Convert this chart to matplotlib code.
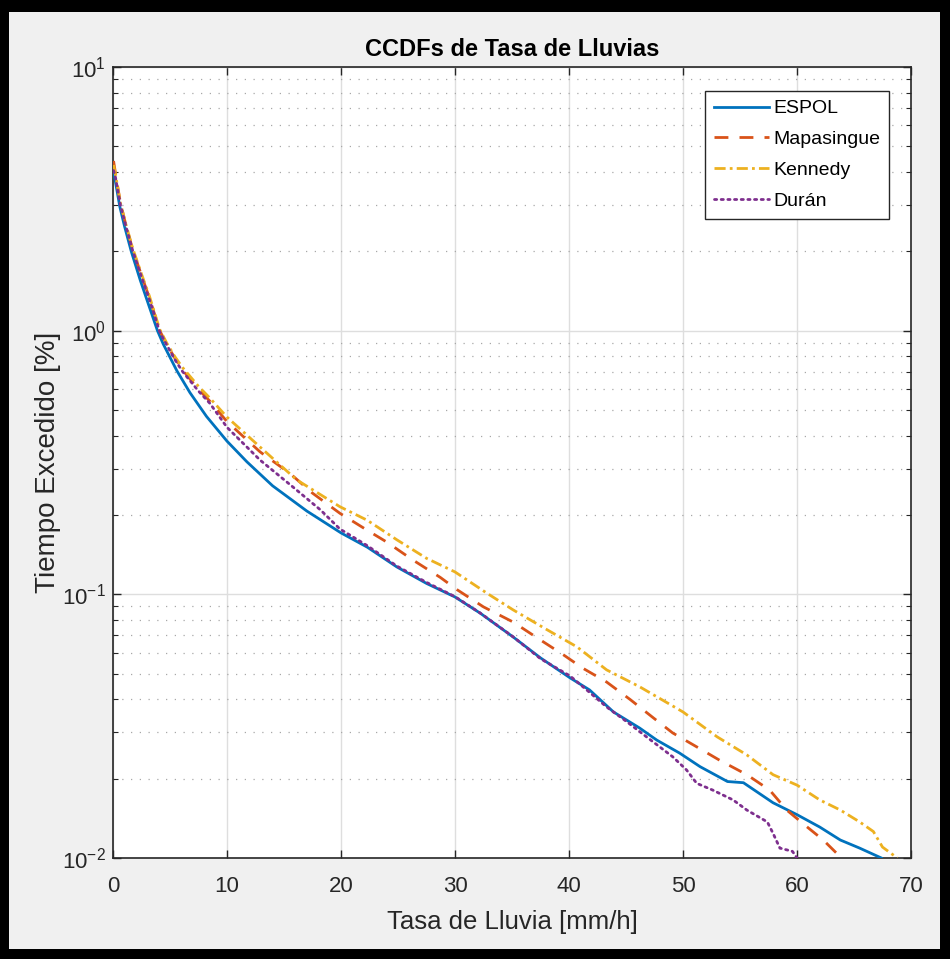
import matplotlib
matplotlib.use("Agg")
import matplotlib.pyplot as plt
from matplotlib.patches import Rectangle
from matplotlib.ticker import LogLocator, NullFormatter, FixedLocator

plt.rcParams['font.family'] = ['Liberation Sans', 'DejaVu Sans']
plt.rcParams['mathtext.fontset'] = 'custom'
plt.rcParams['mathtext.rm'] = 'Liberation Sans'
plt.rcParams['mathtext.it'] = 'Liberation Sans:italic'
plt.rcParams['mathtext.bf'] = 'Liberation Sans:bold'

# ---------------- data ----------------
title = "CCDFs de Tasa de Lluvias"
xlabel = "Tasa de Lluvia [mm/h]"
ylabel = "Tiempo Excedido [%]"
xticks = [0, 10, 20, 30, 40, 50, 60, 70]

espol_x = [0.05, 0.2, 0.6, 1.0, 1.6, 2.4, 3.0, 3.9, 4.4, 5.6, 6.75, 8.2, 10, 11.75, 14,
           17, 20, 22.3, 24.9, 27.5, 30, 32.2, 35.1, 37.5, 40.1, 41.8, 43.9, 46.2, 47.7,
           49.7, 51.5, 53.9, 55.3, 57.9, 60, 62, 63.8, 65.5, 67.4]
espol_y = [3.96, 3.7, 2.95, 2.5, 2.0, 1.55, 1.30, 1.0, 0.891, 0.705, 0.582, 0.473, 0.381,
           0.318, 0.258, 0.207, 0.171, 0.151, 0.127, 0.11, 0.0977, 0.0849, 0.0689,
           0.0574, 0.0482, 0.0434, 0.0358, 0.0311, 0.028, 0.025, 0.0222, 0.0195,
           0.0193, 0.0162, 0.0146, 0.0131, 0.0117, 0.0109, 0.0100]

mapa_x = [0.05, 0.2, 0.65, 1.1, 1.7, 2.5, 3.2, 4.1, 4.7, 5.4, 6.1, 7.5, 8.5, 10, 12.9,
          15.5, 17.5, 19.9, 22.3, 24, 26.3, 28.7, 30.2, 32.5, 35.1, 37.5, 39.5, 41.2,
          43.3, 45.4, 47.4, 49.1, 51.2, 53.2, 55.6, 57.6, 59.1, 60.9, 62.3, 63.9]
mapa_y = [4.4, 4.0, 3.05, 2.55, 2.05, 1.62, 1.33, 1.0, 0.89, 0.79, 0.71, 0.6, 0.54,
          0.452, 0.347, 0.288, 0.242, 0.203, 0.175, 0.158, 0.135, 0.116, 0.104, 0.0896,
          0.0785, 0.0671, 0.059, 0.0525, 0.0465, 0.0398, 0.034, 0.0298, 0.0264, 0.0235,
          0.0207, 0.0181, 0.0152, 0.0131, 0.0117, 0.0100]

kenn_x = [0.05, 0.2, 0.65, 1.1, 1.7, 2.5, 3.2, 4.1, 4.7, 5.4, 6.1, 7.5, 8.5, 10, 12.9,
          16.1, 19.9, 22.3, 24.9, 27.5, 30, 32.8, 35.1, 38.1, 40.7, 43.3, 46.2, 50, 53,
          55.6, 57.9, 60, 62, 63.8, 65.5, 66.7, 67.5, 68.8]
kenn_y = [4.25, 3.95, 3.05, 2.56, 2.07, 1.64, 1.35, 1.01, 0.9, 0.8, 0.725, 0.615, 0.555,
          0.47, 0.362, 0.272, 0.215, 0.191, 0.161, 0.137, 0.1216, 0.101, 0.0873, 0.0733,
          0.0632, 0.0517, 0.0446, 0.0358, 0.0288, 0.0246, 0.0207, 0.0189, 0.0166,
          0.0152, 0.0137, 0.0126, 0.0110, 0.0100]

duran_x = [0.05, 0.2, 0.65, 1.1, 1.7, 2.5, 3.2, 4.1, 4.7, 5.4, 6.1, 7.5, 8.5, 10, 12.9,
           15.8, 18.2, 19.9, 22.3, 24.9, 27.5, 30, 32.2, 35.1, 37.5, 40.1, 41.8, 43.3,
           45.1, 46.8, 49.1, 50.3, 51.2, 52.6, 54.4, 55.6, 57.4, 57.9, 58.5, 59.6, 60.0]
duran_y = [4.05, 3.85, 3.0, 2.52, 2.03, 1.6, 1.31, 0.99, 0.885, 0.78, 0.7, 0.59, 0.53,
           0.43, 0.323, 0.255, 0.209, 0.177, 0.153, 0.128, 0.111, 0.098, 0.085, 0.069,
           0.057, 0.049, 0.0425, 0.0374, 0.0328, 0.0288, 0.0242, 0.0216, 0.0192, 0.0181,
           0.0166, 0.0152, 0.0137, 0.0124, 0.0109, 0.0106, 0.0100]

series = [
    ("ESPOL", espol_x, espol_y),
    ("Mapasingue", mapa_x, mapa_y),
    ("Kennedy", kenn_x, kenn_y),
    ("Durán", duran_x, duran_y),
]
colors = ['#0072BD', '#D95319', '#EDB120', '#7E2F8E']
dash_patterns = [None, [5, 4], [4, 1.5, 1, 1.5], [0.8, 1.6]]

# ---------------- figure ----------------
W, H = 950, 959
fig = plt.figure(figsize=(W / 100, H / 100), dpi=100, facecolor='black')
fig.patches.append(Rectangle((9 / W, 10 / H), (940 - 9) / W, (947 - 10) / H,
                             transform=fig.transFigure, facecolor='#f0f0f0',
                             edgecolor='none', zorder=-5))

ax = fig.add_axes([113 / W, (H - 858) / H, 798 / W, 791 / H])
ax.set_facecolor('white')

for (name, xs, ys), c, d in zip(series, colors, dash_patterns):
    line, = ax.plot(xs, ys, color=c, lw=2.0, label=name, zorder=3)
    if d is not None:
        line.set_dashes(d)
    if name == "Durán":
        line.set_dash_capstyle('round')

ax.set_yscale('log')
ax.set_xlim(0, 70)
ax.set_ylim(1e-2, 1e1)
ax.xaxis.set_major_locator(FixedLocator(xticks))
ax.yaxis.set_major_locator(LogLocator(base=10, numticks=10))
ax.yaxis.set_minor_locator(LogLocator(base=10, subs=range(2, 10), numticks=20))
ax.yaxis.set_minor_formatter(NullFormatter())

ax.grid(True, which='major', color='#dedede', lw=1.0, zorder=0)
ax.grid(True, which='minor', axis='y', color='#a8a8a8', lw=0.9,
        linestyle=(0, (1, 6)), zorder=0)
ax.set_axisbelow(True)

tick_col = '#262626'
ax.tick_params(which='both', direction='in', top=True, right=True, colors=tick_col,
               labelsize=16)
ax.tick_params(which='major', length=6, width=1.0)
ax.tick_params(which='minor', length=3.5, width=0.8)
ax.tick_params(axis='x', which='major', pad=13)
ax.tick_params(axis='y', which='major', pad=5)
for s in ax.spines.values():
    s.set_color(tick_col)
    s.set_linewidth(1.2)

ax.set_title(title, fontsize=17, fontweight='bold', color='black', pad=8)
ax.set_xlabel(xlabel, fontsize=18.5, color=tick_col, labelpad=9.5)
ax.set_ylabel(ylabel, fontsize=20, color=tick_col, labelpad=0.5)

leg = ax.legend(loc='upper right', bbox_to_anchor=((889 - 113) / 798, (858 - 91) / 791),
                borderaxespad=0, fontsize=14, frameon=True, fancybox=False,
                handlelength=2.85, handletextpad=0.2, labelspacing=0.68,
                borderpad=0.45)
leg.get_frame().set_edgecolor('#262626')
leg.get_frame().set_linewidth(1.0)
leg.get_frame().set_facecolor('white')
leg.get_frame().set_alpha(1.0)
for t in leg.get_texts():
    t.set_color('black')

fig.savefig('out.png', dpi=100, facecolor=fig.get_facecolor())
